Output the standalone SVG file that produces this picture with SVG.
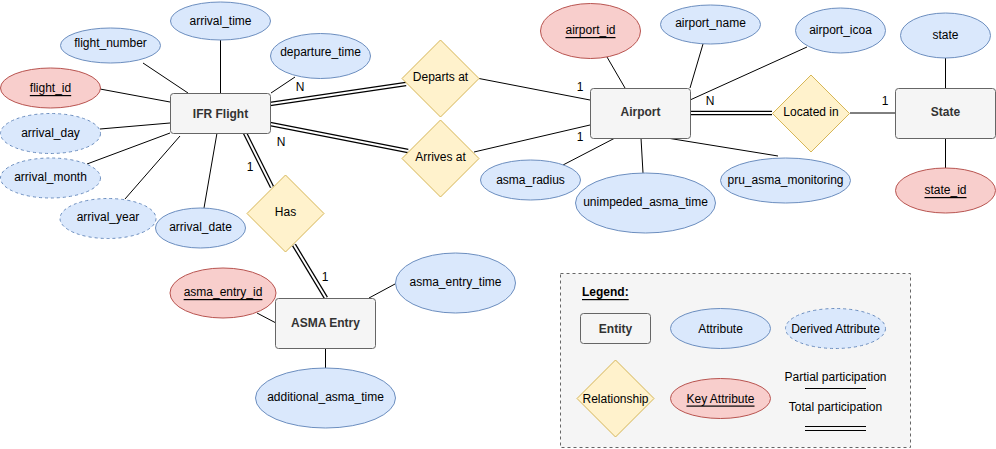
<svg xmlns="http://www.w3.org/2000/svg" width="996" height="449" viewBox="0 0 996 449">
<defs>
<style>
text{font-family:"Liberation Sans",Arial,Helvetica,sans-serif;font-size:12px;fill:#000;text-anchor:middle;dominant-baseline:central}
.ent rect{fill:#f5f5f5;stroke:#666;stroke-width:1}
.ent text{font-weight:bold;fill:#333}
.attr ellipse{fill:#dae8fc;stroke:#6c8ebf;stroke-width:1}
.der ellipse{fill:#dae8fc;stroke:#6c8ebf;stroke-width:1;stroke-dasharray:3 3}
.key ellipse{fill:#f8cecc;stroke:#b85450;stroke-width:1}
.key text{text-decoration:underline}
.rel polygon{fill:#fff2cc;stroke:#d6b656;stroke-width:1;stroke-linejoin:round}
.ln{stroke:#000;stroke-width:1;fill:none}
.dbo{stroke:#000;stroke-width:4.5;fill:none}
.dbi{stroke:#fff;stroke-width:2;fill:none}
.card{font-size:12px}
</style>
</defs>
<rect width="996" height="449" fill="#fff"/>

<g id="legend">
<rect x="560.5" y="273.5" width="350" height="174" fill="#f5f5f5" stroke="#666" stroke-dasharray="3 3"/>
<text x="582" y="292" style="text-anchor:start;font-weight:bold;text-decoration:underline">Legend:</text>
<g class="ent"><rect x="580.5" y="313.5" width="70" height="30" rx="3"/><text x="615.5" y="328.5">Entity</text></g>
<g class="attr"><ellipse cx="720.5" cy="328.5" rx="50" ry="20"/><text x="720.5" y="328.5">Attribute</text></g>
<g class="der"><ellipse cx="835.5" cy="328.5" rx="50" ry="20"/><text x="835.5" y="328.5">Derived Attribute</text></g>
<g class="rel"><polygon points="615.5,360 654,398.5 615.5,437 577,398.5"/><text x="615.5" y="398.5">Relationship</text></g>
<g class="key"><ellipse cx="720.5" cy="398.5" rx="50" ry="20"/><text x="720.5" y="398.5">Key Attribute</text></g>
<text x="835.5" y="377">Partial participation</text>
<line x1="805" y1="388.5" x2="866" y2="388.5" stroke="#000"/>
<text x="835.5" y="407">Total participation</text>
<line x1="805" y1="426.5" x2="866" y2="426.5" stroke="#000"/>
<line x1="805" y1="430.5" x2="866" y2="430.5" stroke="#000"/>
</g>

<g id="connectors">
<line class="ln" x1="143" y1="63" x2="188" y2="93"/>
<line class="ln" x1="220.5" y1="40" x2="220.5" y2="93"/>
<line class="ln" x1="271" y1="93" x2="295" y2="77"/>
<line class="ln" x1="100" y1="89" x2="170" y2="102"/>
<line class="ln" x1="100" y1="129" x2="170" y2="123"/>
<line class="ln" x1="87" y1="164" x2="170" y2="133"/>
<line class="ln" x1="125" y1="199" x2="180" y2="136"/>
<line class="ln" x1="204" y1="208" x2="217" y2="133"/>
<path class="dbo" d="M270,104 L406,84"/><path class="dbi" d="M270,104 L406,84"/>
<path class="dbo" d="M270,124 L408,151"/><path class="dbi" d="M270,124 L408,151"/>
<path class="dbo" d="M245,133 L272,187"/><path class="dbi" d="M245,133 L272,187"/>
<path class="dbo" d="M294,245 L326,298"/><path class="dbi" d="M294,245 L326,298"/>
<path class="dbo" d="M690,113 L772,113"/><path class="dbi" d="M690,113 L772,113"/>
<line class="ln" x1="479" y1="78.5" x2="590" y2="100"/>
<line class="ln" x1="474" y1="152" x2="590" y2="125"/>
<line class="ln" x1="607" y1="57" x2="625" y2="88"/>
<line class="ln" x1="703" y1="44" x2="690" y2="88"/>
<line class="ln" x1="807" y1="47" x2="690" y2="100"/>
<line class="ln" x1="615" y1="138" x2="563" y2="165"/>
<line class="ln" x1="641" y1="138" x2="643" y2="173"/>
<line class="ln" x1="667" y1="138" x2="778" y2="156"/>
<line class="ln" x1="850" y1="113" x2="895" y2="113"/>
<line class="ln" x1="945.5" y1="58" x2="945.5" y2="88"/>
<line class="ln" x1="945.5" y1="138" x2="945.5" y2="168"/>
<line class="ln" x1="257" y1="313" x2="276" y2="323"/>
<line class="ln" x1="369" y1="298" x2="395" y2="284"/>
<line class="ln" x1="325.5" y1="348" x2="325.5" y2="368"/>
<text class="card" x="300" y="87">N</text>
<text class="card" x="281" y="142">N</text>
<text class="card" x="250" y="167">1</text>
<text class="card" x="325" y="277">1</text>
<text class="card" x="580" y="87">1</text>
<text class="card" x="580" y="137">1</text>
<text class="card" x="710" y="101">N</text>
<text class="card" x="885" y="101">1</text>
</g>

<g id="ifr_flight" class="ent"><rect x="170.5" y="93.5" width="100" height="40" rx="3"/><text x="220.5" y="113.5">IFR Flight</text></g>
<g id="arrival_time" class="attr"><ellipse cx="220.5" cy="21" rx="50" ry="19"/><text x="220.5" y="21">arrival_time</text></g>
<g id="flight_number" class="attr"><ellipse cx="110.5" cy="45.5" rx="50" ry="17.5"/><text x="110.5" y="43">flight_number</text></g>
<g id="departure_time" class="attr"><ellipse cx="320.5" cy="56" rx="50" ry="22.5"/><text x="320.5" y="52">departure_time</text></g>
<g id="flight_id" class="key"><ellipse cx="50.5" cy="88" rx="50" ry="20"/><text x="50.5" y="88">flight_id</text></g>
<g id="arrival_day" class="der"><ellipse cx="50.5" cy="133.5" rx="50" ry="20"/><text x="50.5" y="133">arrival_day</text></g>
<g id="arrival_month" class="der"><ellipse cx="50.5" cy="178" rx="50" ry="20"/><text x="50.5" y="177">arrival_month</text></g>
<g id="arrival_year" class="der"><ellipse cx="108" cy="218.5" rx="48" ry="20"/><text x="108" y="217">arrival_year</text></g>
<g id="arrival_date" class="attr"><ellipse cx="200.5" cy="228" rx="45" ry="20"/><text x="200.5" y="227">arrival_date</text></g>

<g id="has" class="rel"><polygon points="285.5,175 324,213.5 285.5,252 247,213.5"/><text x="285.5" y="211.5">Has</text></g>
<g id="departs_at" class="rel"><polygon points="440.5,40 479,78.5 440.5,117 402,78.5"/><text x="440.5" y="77">Departs at</text></g>
<g id="arrives_at" class="rel"><polygon points="440.5,120 479,158.5 440.5,197 402,158.5"/><text x="440.5" y="157">Arrives at</text></g>

<g id="asma_entry" class="ent"><rect x="275.5" y="298.5" width="100" height="50" rx="3"/><text x="325.5" y="322.5">ASMA Entry</text></g>
<g id="asma_entry_id" class="key"><ellipse cx="223" cy="293" rx="53" ry="25"/><text x="223" y="292">asma_entry_id</text></g>
<g id="asma_entry_time" class="attr"><ellipse cx="455.5" cy="283" rx="60" ry="30"/><text x="455.5" y="282">asma_entry_time</text></g>
<g id="additional_asma_time" class="attr"><ellipse cx="325.5" cy="398" rx="70" ry="30"/><text x="325.5" y="397">additional_asma_time</text></g>

<g id="airport" class="ent"><rect x="590.5" y="88.5" width="100" height="50" rx="3"/><text x="640.5" y="112">Airport</text></g>
<g id="airport_id" class="key"><ellipse cx="590.5" cy="31" rx="50" ry="27.5"/><text x="590.5" y="30">airport_id</text></g>
<g id="airport_name" class="attr"><ellipse cx="710.5" cy="24.5" rx="50" ry="19.5"/><text x="710.5" y="23">airport_name</text></g>
<g id="airport_icoa" class="attr"><ellipse cx="840.5" cy="30.5" rx="45" ry="22.5"/><text x="840.5" y="30">airport_icoa</text></g>
<g id="asma_radius" class="attr"><ellipse cx="530.5" cy="180" rx="50" ry="20"/><text x="530.5" y="180">asma_radius</text></g>
<g id="unimpeded_asma_time" class="attr"><ellipse cx="645.5" cy="203" rx="70" ry="30"/><text x="645.5" y="202">unimpeded_asma_time</text></g>
<g id="pru_asma_monitoring" class="attr"><ellipse cx="785.5" cy="180.5" rx="65" ry="22.5"/><text x="785.5" y="180">pru_asma_monitoring</text></g>

<g id="located_in" class="rel"><polygon points="811,75 849.5,113.5 811,152 772.5,113.5"/><text x="811" y="112">Located in</text></g>

<g id="state_entity" class="ent"><rect x="895.5" y="88.5" width="100" height="50" rx="3"/><text x="945.5" y="112">State</text></g>
<g id="state" class="attr"><ellipse cx="945.5" cy="35.5" rx="45" ry="22.5"/><text x="945.5" y="35">state</text></g>
<g id="state_id" class="key"><ellipse cx="945.5" cy="190.5" rx="50" ry="22.5"/><text x="945.5" y="190">state_id</text></g>
</svg>
